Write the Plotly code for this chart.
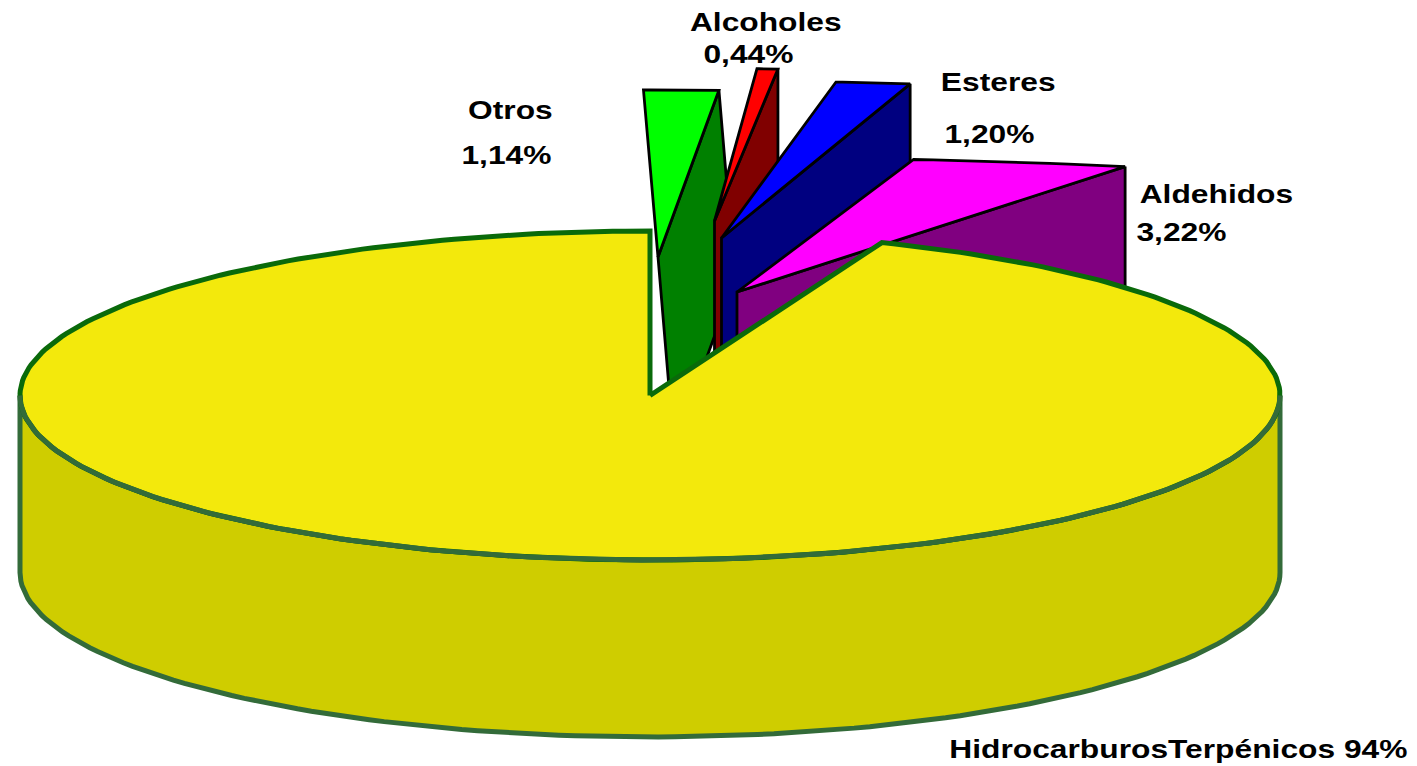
import numpy as np
import plotly.graph_objects as go

# ---- data ----
categories = ["Otros", "Alcoholes", "Esteres", "Aldehidos", "HidrocarburosTerpénicos"]
values = [1.14, 0.44, 1.20, 3.22, 94.0]

# ---- styling ----
top_colors = ["#00ff00", "#ff0000", "#0000ff", "#ff00ff"]
wall_colors = ["#008000", "#800000", "#000080", "#800080"]
YELLOW_TOP, YELLOW_SIDE = "#f3e90c", "#cfcd00"
EDGE_TOP, EDGE_SIDE = "#0a6a0a", "#336b39"

# ---- projection of the pie (pixels of the page) ----
CX, CY, RX, RY, DEPTH = 650, 395.5, 630, 164.5, 177
# explosion of each slice: apex shift, radii, rotation (deg), wall slant
explode_dx = [8, 64.5, 71.5, 87]
explode_dy = [-138.5, -174.5, -157.5, -103.5]
slice_rx = [1054, 760, 996, 1085]
slice_ry = [167, 152.5, 157, 134.3]
slice_rot = [-0.79, -0.90, 0.91, -0.64]
wall_slant = [16, 0, 0, 0]
WALL_H = 190

fig = go.Figure()


def poly(xs, ys, fill, line, width):
    fig.add_trace(go.Scatter(x=xs, y=ys, mode="lines", fill="toself", fillcolor=fill,
                             line=dict(color=line, width=width), hoverinfo="skip",
                             showlegend=False))


def arc(a0, a1, cx, cy, rx, ry, n=2):
    t = np.radians(np.linspace(a0, a1, n))
    return cx + rx * np.sin(t), cy - ry * np.cos(t)


start = 0.0
for i in range(4):
    sweep = values[i] * 3.6
    ax, ay = CX + explode_dx[i], CY + explode_dy[i]
    a0, a1 = start + slice_rot[i], start + sweep + slice_rot[i]
    xs, ys = arc(a0, a1, ax, ay, slice_rx[i], slice_ry[i], 12)
    sl = wall_slant[i]
    # radial wall visible behind the top face
    poly([xs[-1], ax, ax + sl, xs[-1] + sl, xs[-1]],
         [ys[-1], ay, ay + WALL_H, ys[-1] + WALL_H, ys[-1]], wall_colors[i], "#000000", 2.8)
    # top face
    poly([ax, *xs, ax], [ay, *ys, ay], top_colors[i], "#000000", 2.8)
    start += sweep

# large slice: rim then top
y0 = start
fx, fy = arc(90, 270, CX, CY, RX, RY, 120)
poly([*fx, *fx[::-1], fx[0]], [*fy, *(fy[::-1] + DEPTH), fy[0]], YELLOW_SIDE, EDGE_SIDE, 5)
tx, ty = arc(y0, 360, CX, CY, RX, RY, 300)
poly([CX, *tx, CX], [CY, *ty, CY], YELLOW_TOP, EDGE_TOP, 5)
fig.add_trace(go.Scatter(x=fx, y=fy, mode="lines", line=dict(color=EDGE_SIDE, width=5),
                         hoverinfo="skip", showlegend=False))

# ---- labels ----
pct = [f"{v:.2f}%".replace(".", ",") for v in values[:4]]
name_xy = [(510, 110), (765, 22), (998, 82), (1216, 194)]
pct_xy = [(506, 155), (748, 54), (989, 134), (1181, 232)]
FONT = dict(family="Liberation Sans", size=25, color="#000000", weight="bold")
for i in range(4):
    for txt, (x, y) in ((categories[i], name_xy[i]), (pct[i], pct_xy[i])):
        fig.add_annotation(x=x, y=y, text=f"<b>{txt}</b>", showarrow=False, font=FONT)
fig.add_annotation(x=1178, y=749, text=f"<b>{categories[4]} {values[4]:.0f}%</b>",
                   showarrow=False, font=FONT)

fig.update_layout(width=1417, height=766, margin=dict(l=0, r=0, t=0, b=0),
                  paper_bgcolor="#ffffff", plot_bgcolor="#ffffff",
                  xaxis=dict(range=[0, 1417], visible=False, fixedrange=True),
                  yaxis=dict(range=[766, 0], visible=False, fixedrange=True))

# page fit + horizontally wide lettering of the original
post = """
document.body.style.margin='0';document.body.style.overflow='hidden';
document.querySelectorAll('.annotation-text').forEach(function(t){
  var w=t.getComputedTextLength();
  t.setAttribute('lengthAdjust','spacingAndGlyphs');
  t.setAttribute('textLength',w*1.27);
});
"""
fig.write_html("out.html", post_script=post, config={"displayModeBar": False})
